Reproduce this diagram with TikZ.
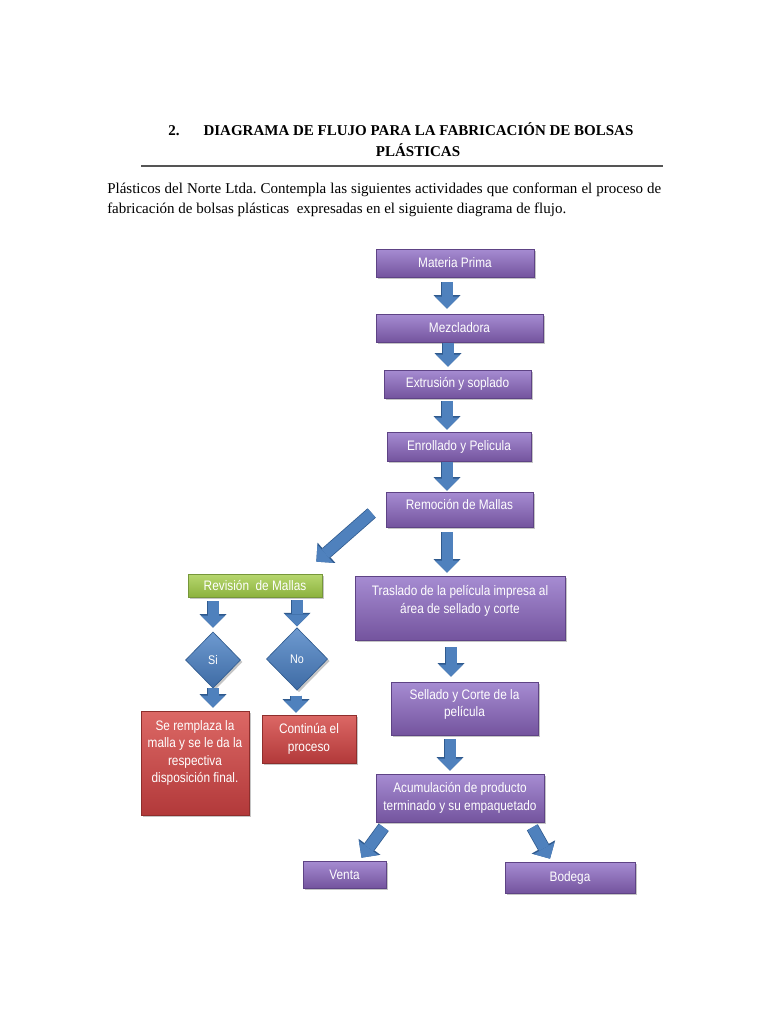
\documentclass[tikz,border=0pt]{standalone}
\usepackage{fontspec}
\setmainfont{Liberation Serif}
\newfontfamily\boxfont{Liberation Sans}[FakeStretch=0.86]
\usetikzlibrary{arrows.meta,calc,shapes.geometric,shadows}

\definecolor{purpletop}{HTML}{A68CD2}
\definecolor{purplebot}{HTML}{74549E}
\definecolor{purpleedge}{HTML}{5E4385}
\definecolor{greentop}{HTML}{B7D76F}
\definecolor{greenbot}{HTML}{8CB23E}
\definecolor{greenedge}{HTML}{76973A}
\definecolor{redtop}{HTML}{DC6865}
\definecolor{redbot}{HTML}{B2393A}
\definecolor{rededge}{HTML}{8E2E2C}
\definecolor{bluetop}{HTML}{6E9AD0}
\definecolor{bluebot}{HTML}{3E6BA4}
\definecolor{arrowblue}{HTML}{4F81BD}
\definecolor{arrowdark}{HTML}{2F5A8E}
\definecolor{rulegray}{HTML}{555555}

\begin{document}
\frenchspacing
\begin{tikzpicture}[x=0.8pt,y=-0.8pt,
	box/.style={rectangle,text=white,align=center,inner sep=2pt,line width=0.5pt,
		font=\boxfont\fontsize{11}{14}\selectfont,
		drop shadow={shadow xshift=1.6pt,shadow yshift=-1.6pt,opacity=0.45}},
	pbox/.style={box,draw=purpleedge,top color=purpletop,bottom color=purplebot},
	gbox/.style={box,draw=greenedge,top color=greentop,bottom color=greenbot},
	rbox/.style={box,draw=rededge,top color=redtop,bottom color=redbot},
	dbox/.style={box,diamond,inner sep=0pt,draw=arrowdark,top color=bluetop,bottom color=bluebot,
		font=\boxfont\fontsize{10}{12}\selectfont},
	blk/.style={draw=arrowblue,line width=8.8pt,-{Triangle[width=19.2pt,length=9.6pt,line width=0pt]},
		preaction={draw=arrowdark,line width=10pt,-{Triangle[width=21.6pt,length=10.8pt,line width=0pt]}}},
	head/.style={font=\bfseries\fontsize{12}{14}\selectfont,anchor=base}]

	\useasboundingbox[fill=white] (0,0) rectangle (768,1024);

	% Heading and text
	\node[head] (num) at (174,136) {2.};
	\node[head] (tit1) at (418.5,136) {DIAGRAMA DE FLUJO PARA LA FABRICACIÓN DE BOLSAS};
	\node[head] (tit2) at (418,157) {PLÁSTICAS};
	\draw[rulegray, line width=1.2pt] (141,166) -- (663,166);
	\node[anchor=north west, inner sep=0pt, text width=443.2pt, align=justify, font=\fontsize{12}{16}\selectfont] (intro) at (107,183)
		{Plásticos del Norte Ltda. Contempla las siguientes actividades que conforman el proceso de\linebreak fabricación de bolsas plásticas \ expresadas en el siguiente diagrama de flujo.};

	% Main column
	\node[pbox, minimum width=126.4pt, minimum height=22.4pt] (mat) at (455,263) {Materia Prima};
	\node[pbox, minimum width=133.6pt, minimum height=22.4pt] (mez) at (459.5,328) {Mezcladora};
	\node[pbox, minimum width=117.6pt, minimum height=22.4pt] (ext) at (457.5,384) {Extrusión y soplado};
	\node[pbox, minimum width=115.2pt, minimum height=23.2pt] (enr) at (459,446.5) {Enrollado y Pelicula};
	\node[pbox, minimum width=117.6pt, minimum height=28pt] (rem) at (459.5,509.5) {Remoción de Mallas\\[-6pt]\mbox{}};
	\node[pbox, minimum width=168pt, minimum height=51.2pt] (tra) at (460,608) {Traslado de la película impresa al\\área de sellado y corte\\[0pt]\mbox{}};
	\node[pbox, minimum width=117.6pt, minimum height=42.4pt] (sel) at (464.5,708.5) {Sellado y Corte de la\\película\\[-5pt]\mbox{}};
	\node[pbox, minimum width=134.4pt, minimum height=38.4pt] (acu) at (460,798) {Acumulación de producto\\terminado y su empaquetado};
	\node[pbox, minimum width=66.4pt, minimum height=21.6pt] (ven) at (344.5,874.5) {Venta};
	\node[pbox, minimum width=104pt, minimum height=24.8pt] (bod) at (570,877.5) {Bodega};

	% Revision branch
	\node[gbox, minimum width=107.2pt, minimum height=18.4pt] (rev) at (255,585.5) {Revisión \ de Mallas};
	\node[dbox, minimum width=44pt, minimum height=45pt] (si) at (213,660) {Si};
	\node[dbox, minimum width=49pt, minimum height=50pt] (no) at (297,659) {No};
	\node[rbox, minimum width=86.4pt, minimum height=83.2pt] (sr) at (195,763) {Se remplaza la\\malla y se le da la\\respectiva\\disposición final.\\[4pt]\mbox{}};
	\node[rbox, minimum width=75.2pt, minimum height=38.4pt] (con) at (309,739) {Continúa el\\proceso};

	% Arrows
	\draw[blk] ($(mat.south)+(-8,5)$) -- ($(mez.north)+(-12.5,-5)$);
	\draw[blk] ($(mez.south)+(-11.5,1)$) -- ($(ext.north)+(-9.5,-3)$);
	\draw[blk] ($(ext.south)+(-10.5,3)$) -- ($(enr.north)+(-12,-2)$);
	\draw[blk] ($(enr.south)+(-12,1)$) -- ($(rem.north)+(-12.5,-1)$);
	\draw[blk] ($(rem.south)+(-12.5,5)$) -- ($(tra.north)+(-13,-3)$);
	\draw[blk] ($(rem.west)+(-14,3.5)$) -- ($(rev.north east)+(-6,-12)$);
	\draw[blk] ($(rev.south)+(-42,4)$) -- ($(si.north)+(0,-4)$);
	\draw[blk] ($(rev.south)+(42,3)$) -- ($(no.north)+(0,-1)$);
	\draw[blk] (si.south) -- ($(sr.north)+(18,-3)$);
	\draw[blk] ($(no.south)+(-1,5)$) -- ($(con.north)+(-13,-2)$);
	\draw[blk] ($(tra.south)+(-9,7)$) -- ($(sel.north)+(-13.5,-5)$);
	\draw[blk] ($(sel.south)+(-14.5,4)$) -- ($(acu.north)+(-10,-3)$);
	\draw[blk] ($(acu.south west)+(8,5)$) -- ($(ven.north)+(17,-3)$);
	\draw[blk] ($(acu.south east)+(-12,5)$) -- ($(bod.north)+(-20,-3)$);

\end{tikzpicture}
\end{document}
